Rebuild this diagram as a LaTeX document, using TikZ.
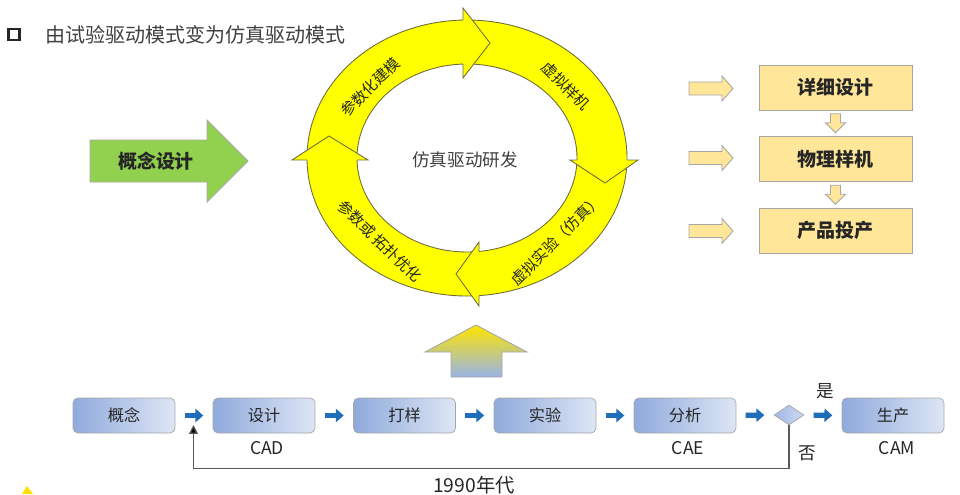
\documentclass[tikz,border=0pt]{standalone}
\usepackage{fontspec}
\setmainfont{Noto Sans CJK SC}
\usetikzlibrary{shapes.geometric,arrows.meta,calc}

\definecolor{ringyellow}{RGB}{255,255,0}
\definecolor{ringedge}{RGB}{110,110,60}
\definecolor{leafgreen}{RGB}{146,208,80}
\definecolor{paleyellow}{RGB}{255,230,153}
\definecolor{flowblue}{RGB}{31,110,185}
\definecolor{boxleft}{RGB}{143,170,220}
\definecolor{boxright}{RGB}{222,230,245}
\definecolor{edgegray}{RGB}{166,166,166}
\definecolor{textgray}{RGB}{64,64,64}
\definecolor{textdark}{RGB}{38,38,38}
\definecolor{goldtop}{RGB}{255,229,0}
\definecolor{bluebottom}{RGB}{152,180,232}
\definecolor{diamleft}{RGB}{160,182,228}
\definecolor{diamright}{RGB}{205,218,242}
\definecolor{markyellow}{RGB}{255,224,0}

\begin{document}
\begin{tikzpicture}[x=0.02cm, y=-0.02cm]
        \useasboundingbox (0,0) rectangle (960,494);

        % title
        \node [draw=black!85, line width=1.7pt, minimum size=0.22cm, inner sep=0] (Bul) at (14,34.5) {};
        \node [anchor=west, inner sep=0, text=textgray, font=\fontsize{11.4}{13}\selectfont] (Tit) at (45,35) {由试验驱动模式变为仿真驱动模式};

        % ring of four arrows
        \path [fill=ringyellow, draw=ringedge, line width=0.5pt, even odd rule]
                (467,158) ellipse [x radius=160, y radius=138]
                (467,158) ellipse [x radius=110, y radius=94];
        \begin{scope}[line width=0.5pt]
                \fill [ringyellow] (463,8) -- (490,43) -- (463,78) -- cycle;
                \draw [ringedge] (463,20) -- (463,8) -- (490,43) -- (463,78) -- (463,64);
                \fill [ringyellow] (570,160) -- (605,183) -- (638,160) -- cycle;
                \draw [ringedge] (577,160) -- (570,160) -- (605,183) -- (638,160) -- (627,160);
                \fill [ringyellow] (479,242) -- (456,274) -- (479,306) -- cycle;
                \draw [ringedge] (479,251.5) -- (479,242) -- (456,274) -- (479,306) -- (479,295.5);
                \fill [ringyellow] (292,160) -- (329,136) -- (368,160) -- cycle;
                \draw [ringedge] (307,160) -- (292,160) -- (329,136) -- (368,160) -- (357,160);
        \end{scope}

        \begin{scope}[every node/.style={text=textdark, inner sep=0, font=\fontsize{8.6}{10}\selectfont}]
                \node [rotate=45] (Cs) at (370,87) {参数化建模};
                \node [rotate=-45] (Xy) at (566,86) {虚拟样机};
                \node [rotate=45] (Xs) at (556,240) {虚拟实验（仿真）};
                \node [rotate=-44] (Yh) at (380,241) {参数或 拓扑优化};
        \end{scope}
        \node [text=textgray, font=\fontsize{10}{12}\selectfont] (Fz) at (465,160) {仿真驱动研发};

        % concept arrow
        \filldraw [fill=leafgreen, draw=edgegray, line width=0.5pt]
                (90,140) -- (207,140) -- (207,120) -- (248,161) -- (207,202) -- (207,182) -- (90,182) -- cycle;
        \node [text=textdark, font=\fontsize{10.8}{12}\bfseries] (Gs) at (156,161) {概念设计};

        % right column
        \begin{scope}[every node/.style={draw=edgegray, fill=paleyellow, text=textdark, line width=0.5pt,
                        minimum width=3.06cm, minimum height=0.9cm, inner sep=0, font=\fontsize{10.8}{12}\bfseries}]
                \node (Xx) at (835.5,87.5) {详细设计};
                \node (Wl) at (835.5,159) {物理样机};
                \node (Cp) at (835.5,230.5) {产品投产};
        \end{scope}
        \begin{scope}[every path/.style={fill=paleyellow, draw=edgegray, line width=0.5pt}]
                \foreach \c in {88.5,158,231}
                        \path (689,\c-6.5) -- (722,\c-6.5) -- (722,\c-12.5) -- (733,\c) -- (722,\c+12.5) -- (722,\c+6.5) -- (689,\c+6.5) -- cycle;
                \path ($(Xx.south)!0.5!(Wl.north)$) ++(-5,-9.5) -- ++(10,0) -- ++(0,9) -- ++(5,0) -- ++(-10,10) -- ++(-10,-10) -- ++(5,0) -- cycle;
                \path ($(Wl.south)!0.5!(Cp.north)$) ++(-5,-9.5) -- ++(10,0) -- ++(0,9) -- ++(5,0) -- ++(-10,10) -- ++(-10,-10) -- ++(5,0) -- cycle;
        \end{scope}

        % shaded up arrow
        \shadedraw [top color=goldtop, bottom color=bluebottom, draw=edgegray, line width=0.5pt]
                (476,325) -- (527,352) -- (502,352) -- (502,377) -- (451,377) -- (451,352) -- (425,352) -- cycle;

        % old flow
        \begin{scope}[every node/.style={draw=edgegray, left color=boxleft, right color=boxright, rounded corners=0.1cm,
                        minimum width=2.04cm, minimum height=0.7cm, inner sep=0, text=textdark, font=\fontsize{9.2}{11}\selectfont}]
                \node (Gn) at (124,415.5) {概念};
                \node (Sj) at (264,415.5) {设计};
                \node (Dy) at (404.5,415.5) {打样};
                \node (Sy) at (545,415.5) {实验};
                \node (Fx) at (685,415.5) {分析};
                \node [diamond, rounded corners=0, shape aspect=1.5, minimum width=0.6cm, minimum height=0.4cm,
                        left color=diamleft, right color=diamright] (Pd) at (789,415) {};
                \node (Sc) at (893,415.5) {生产};
        \end{scope}

        \begin{scope}[every path/.style={draw=flowblue, line width=3pt, -{Triangle[length=4.5pt, width=7.5pt]}}]
                \foreach \a/\b in {Gn/Sj, Sj/Dy, Dy/Sy, Sy/Fx, Fx/Pd, Pd/Sc}
                        \path ($(\a.east)!0.25!(\b.west)$) -- ($(\a.east)!0.75!(\b.west)$);
        \end{scope}

        \coordinate (Bk) at (193.5,425);
        \draw [draw=black!65, line width=0.7pt, -{Triangle[length=5pt, width=5pt, fill=black]}] (Pd.south) -- ++(0,43) -| (Bk);

        \begin{scope}[every node/.style={text=textdark, inner sep=0, font=\fontsize{10}{12}\selectfont}]
                \node (Cad) at (267,448) {CAD};
                \node (Cae) at (688,448) {CAE};
                \node (Cam) at (897,448) {CAM};
                \node (Sh) at (825,391) {是};
                \node (Fo) at (807,453) {否};
                \node [font=\fontsize{11}{13}\selectfont] (Nd) at (474,485) {1990年代};
        \end{scope}

        % corner mark
        \fill [markyellow] (22,494) -- (27,486) -- (33,494) -- cycle;
\end{tikzpicture}
\end{document}
